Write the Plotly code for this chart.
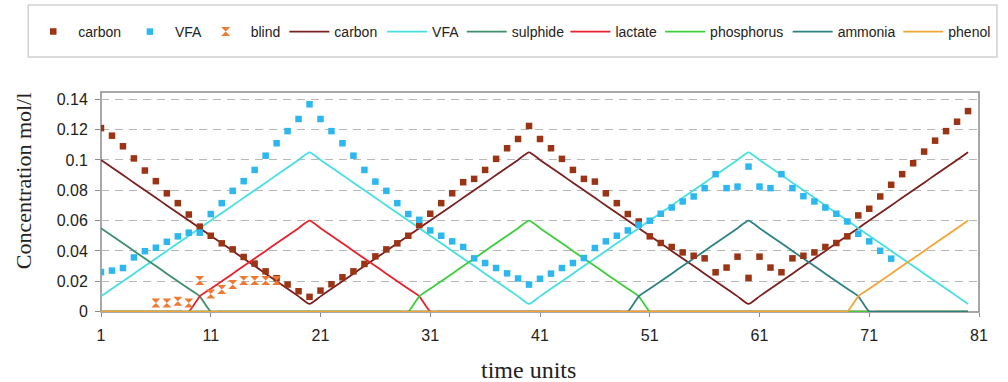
import plotly.graph_objects as go

t = list(range(1, 81))

carbon_pts = [0.121, 0.116, 0.109, 0.101, 0.093, 0.086, 0.078, 0.0715, 0.064, 0.056,
              0.050, 0.045, 0.041, 0.036, 0.0316, 0.0265, 0.022, 0.0178, 0.0134, 0.0097,
              0.0138, 0.018, 0.0226, 0.0265, 0.0314, 0.0364, 0.041, 0.045, 0.050, 0.057,
              0.0645, 0.0715, 0.078, 0.0853, 0.0875, 0.0934, 0.1007, 0.1077, 0.1138, 0.1224,
              0.1138, 0.1077, 0.1007, 0.0934, 0.0875, 0.0857, 0.078, 0.0715, 0.0643, 0.0594,
              0.0496, 0.0452, 0.0426, 0.039, 0.0368, 0.0351, 0.0259, 0.029, 0.0362, 0.0222,
              0.0362, 0.029, 0.0259, 0.0351, 0.0368, 0.039, 0.0426, 0.0452, 0.0496, 0.0634,
              0.0678, 0.0759, 0.0836, 0.0906, 0.0978, 0.1055, 0.1127, 0.119, 0.1252, 0.1322]

vfa_pts = [0.026, 0.027, 0.0287, 0.0357, 0.0398, 0.0421, 0.046, 0.0496, 0.052, 0.052,
           0.0643, 0.0715, 0.0796, 0.086, 0.0934, 0.1028, 0.111, 0.119, 0.127, 0.1367,
           0.127, 0.119, 0.111, 0.1028, 0.0934, 0.0857, 0.0796, 0.0715, 0.0643, 0.0605,
           0.0535, 0.050, 0.0463, 0.0426, 0.0351, 0.032, 0.0287, 0.0252, 0.0218, 0.0178,
           0.0216, 0.025, 0.0287, 0.032, 0.0353, 0.0419, 0.0463, 0.050, 0.0535, 0.0572,
           0.0599, 0.0645, 0.0686, 0.0726, 0.0759, 0.0814, 0.0906, 0.0814, 0.0824, 0.0956,
           0.0824, 0.0814, 0.0906, 0.0814, 0.0761, 0.0726, 0.0686, 0.0645, 0.0594, 0.0513,
           0.0463, 0.0401, 0.0349, None, None, None, None, None, None, None]

blind_pts = [None, None, None, None, None, 0.0057, 0.0057, 0.0068, 0.0057, 0.0204,
             0.0116, 0.0145, 0.0178, 0.0204, 0.0204, 0.0204, 0.0204] + [None] * 63

carbon_line = [0.100, 0.095, 0.090, 0.085, 0.080, 0.075, 0.070, 0.065, 0.060, 0.055,
               0.050, 0.045, 0.040, 0.035, 0.030, 0.025, 0.020, 0.015, 0.010, 0.005,
               0.010, 0.015, 0.020, 0.025, 0.030, 0.035, 0.040, 0.045, 0.050, 0.055,
               0.060, 0.065, 0.070, 0.075, 0.080, 0.085, 0.090, 0.095, 0.100, 0.105,
               0.100, 0.095, 0.090, 0.085, 0.080, 0.075, 0.070, 0.065, 0.060, 0.055,
               0.050, 0.045, 0.040, 0.035, 0.030, 0.025, 0.020, 0.015, 0.010, 0.005,
               0.010, 0.015, 0.020, 0.025, 0.030, 0.035, 0.040, 0.045, 0.050, 0.055,
               0.060, 0.065, 0.070, 0.075, 0.080, 0.085, 0.090, 0.095, 0.100, 0.105]

vfa_line = [0.010, 0.015, 0.020, 0.025, 0.030, 0.035, 0.040, 0.045, 0.050, 0.055,
            0.060, 0.065, 0.070, 0.075, 0.080, 0.085, 0.090, 0.095, 0.100, 0.105,
            0.100, 0.095, 0.090, 0.085, 0.080, 0.075, 0.070, 0.065, 0.060, 0.055,
            0.050, 0.045, 0.040, 0.035, 0.030, 0.025, 0.020, 0.015, 0.010, 0.005,
            0.010, 0.015, 0.020, 0.025, 0.030, 0.035, 0.040, 0.045, 0.050, 0.055,
            0.060, 0.065, 0.070, 0.075, 0.080, 0.085, 0.090, 0.095, 0.100, 0.105,
            0.100, 0.095, 0.090, 0.085, 0.080, 0.075, 0.070, 0.065, 0.060, 0.055,
            0.050, 0.045, 0.040, 0.035, 0.030, 0.025, 0.020, 0.015, 0.010, 0.005]

sulphide_line = [0.055, 0.050, 0.045, 0.040, 0.035, 0.030, 0.025, 0.020, 0.015, 0.010,
                 0.0] + [0.0] * 69

lactate_line = [0.0] * 9 + [0.010, 0.015, 0.020, 0.025, 0.030, 0.035, 0.040, 0.045, 0.050,
                            0.055, 0.060, 0.055, 0.050, 0.045, 0.040, 0.035, 0.030, 0.025,
                            0.020, 0.015, 0.010] + [0.0] * 50

phosphorus_line = [0.0] * 29 + [0.010, 0.015, 0.020, 0.025, 0.030, 0.035, 0.040, 0.045,
                                0.050, 0.055, 0.060, 0.055, 0.050, 0.045, 0.040, 0.035,
                                0.030, 0.025, 0.020, 0.015, 0.010] + [0.0] * 30

ammonia_line = [0.0] * 49 + [0.010, 0.015, 0.020, 0.025, 0.030, 0.035, 0.040, 0.045,
                             0.050, 0.055, 0.060, 0.055, 0.050, 0.045, 0.040, 0.035,
                             0.030, 0.025, 0.020, 0.015, 0.010] + [0.0] * 10

phenol_line = [0.0] * 69 + [0.010, 0.015, 0.020, 0.025, 0.030, 0.035, 0.040, 0.045,
                            0.050, 0.055, 0.060]

x_ticks = [1, 11, 21, 31, 41, 51, 61, 71, 81]
y_ticks = [0, 0.02, 0.04, 0.06, 0.08, 0.10, 0.12, 0.14]
y_labels = ["0", "0.02", "0.04", "0.06", "0.08", "0.1", "0.12", "0.14"]

# (name, values, colour, legend id, legend item start pixel)
lines = [
    ("carbon", carbon_line, "#7a1e1e", "legend4", 285),
    ("VFA", vfa_line, "#44e0e4", "legend5", 383),
    ("sulphide", sulphide_line, "#3d8f6c", "legend6", 463),
    ("lactate", lactate_line, "#e8222c", "legend7", 567),
    ("phosphorus", phosphorus_line, "#3ccf3c", "legend8", 662),
    ("ammonia", ammonia_line, "#2c8282", "legend9", 790),
    ("phenol", phenol_line, "#f4a534", "legend10", 901),
]
markers = [
    ("carbon", carbon_pts, "#9a3414", "square", 6.5, "legend", 28),
    ("VFA", vfa_pts, "#2cb8ee", "square", 6.5, "legend2", 125),
    ("blind", blind_pts, "#ee7a32", "hourglass", 9, "legend3", 201),
]

PL, PR = 101, 982   # plot area pixel edges
PW = PR - PL

fig = go.Figure()
legends = {}


def leg_cfg(px):
    return dict(orientation="h", x=(px - PL) / PW, xanchor="left", y=1.2727,
                yanchor="middle", itemwidth=40,
                font=dict(size=14, color="#222222",
                          family="Liberation Sans, Arial, sans-serif"),
                bgcolor="rgba(0,0,0,0)", borderwidth=0)


for name, vals, col, lg, px in lines:
    fig.add_trace(go.Scatter(x=t, y=vals, mode="lines", name=name, legend=lg,
                             line=dict(color=col, width=1.8, shape="spline", smoothing=0.5)))
    legends[lg] = leg_cfg(px)
for name, vals, col, sym, sz, lg, px in markers:
    fig.add_trace(go.Scatter(x=t, y=vals, mode="markers", name=name, legend=lg,
                             marker=dict(color=col, symbol=sym, size=sz, line=dict(width=0))))
    legends[lg] = leg_cfg(px)

fig.update_layout(
    width=1008, height=382,
    margin=dict(l=PL, r=1008 - PR, t=92, b=70),
    paper_bgcolor="white", plot_bgcolor="white",
    font=dict(family="Liberation Sans, Arial, sans-serif", color="#222222"),
    showlegend=True,
    xaxis=dict(range=[1, 81], tickvals=x_ticks, ticks="outside", ticklen=4,
               tickcolor="#8a8a8a", showline=False, showgrid=False, zeroline=False,
               ticklabelstandoff=5,
               tickfont=dict(size=16, color="#222222")),
    yaxis=dict(range=[-0.0003, 0.1448], tickvals=y_ticks, ticktext=y_labels, ticks="outside",
               ticklen=5, tickcolor="#8a8a8a", showline=False, showgrid=True,
               gridcolor="#b8b8b8", griddash="8px,6px", gridwidth=1, zeroline=False,
               ticklabelstandoff=4,
               tickfont=dict(size=16, color="#222222")),
    shapes=[
        dict(type="rect", xref="paper", yref="paper", x0=0, x1=1, y0=0, y1=1,
             layer="below", line=dict(color="#8a8a8a", width=1.5),
             fillcolor="rgba(0,0,0,0)"),
        dict(type="rect", xref="paper", yref="paper", x0=(28 - PL) / PW,
             x1=(1000 - PL) / PW, y0=1.159, y1=1.3955,
             line=dict(color="#d0d0d0", width=1.5), fillcolor="rgba(0,0,0,0)"),
    ],
    annotations=[
        dict(text="Concentration mol/l", xref="paper", yref="paper", x=(24 - PL) / PW,
             y=0.5955, textangle=-90, showarrow=False, xanchor="center", yanchor="middle",
             font=dict(family="Liberation Serif, Times New Roman, serif", size=22,
                       color="#222222")),
        dict(text="time units", xref="paper", yref="paper", x=(530 - PL) / PW, y=-0.2636,
             showarrow=False, xanchor="center", yanchor="middle",
             font=dict(family="Liberation Serif, Times New Roman, serif", size=24,
                       color="#222222")),
    ],
    **legends,
)

fig.write_html("out.html")
